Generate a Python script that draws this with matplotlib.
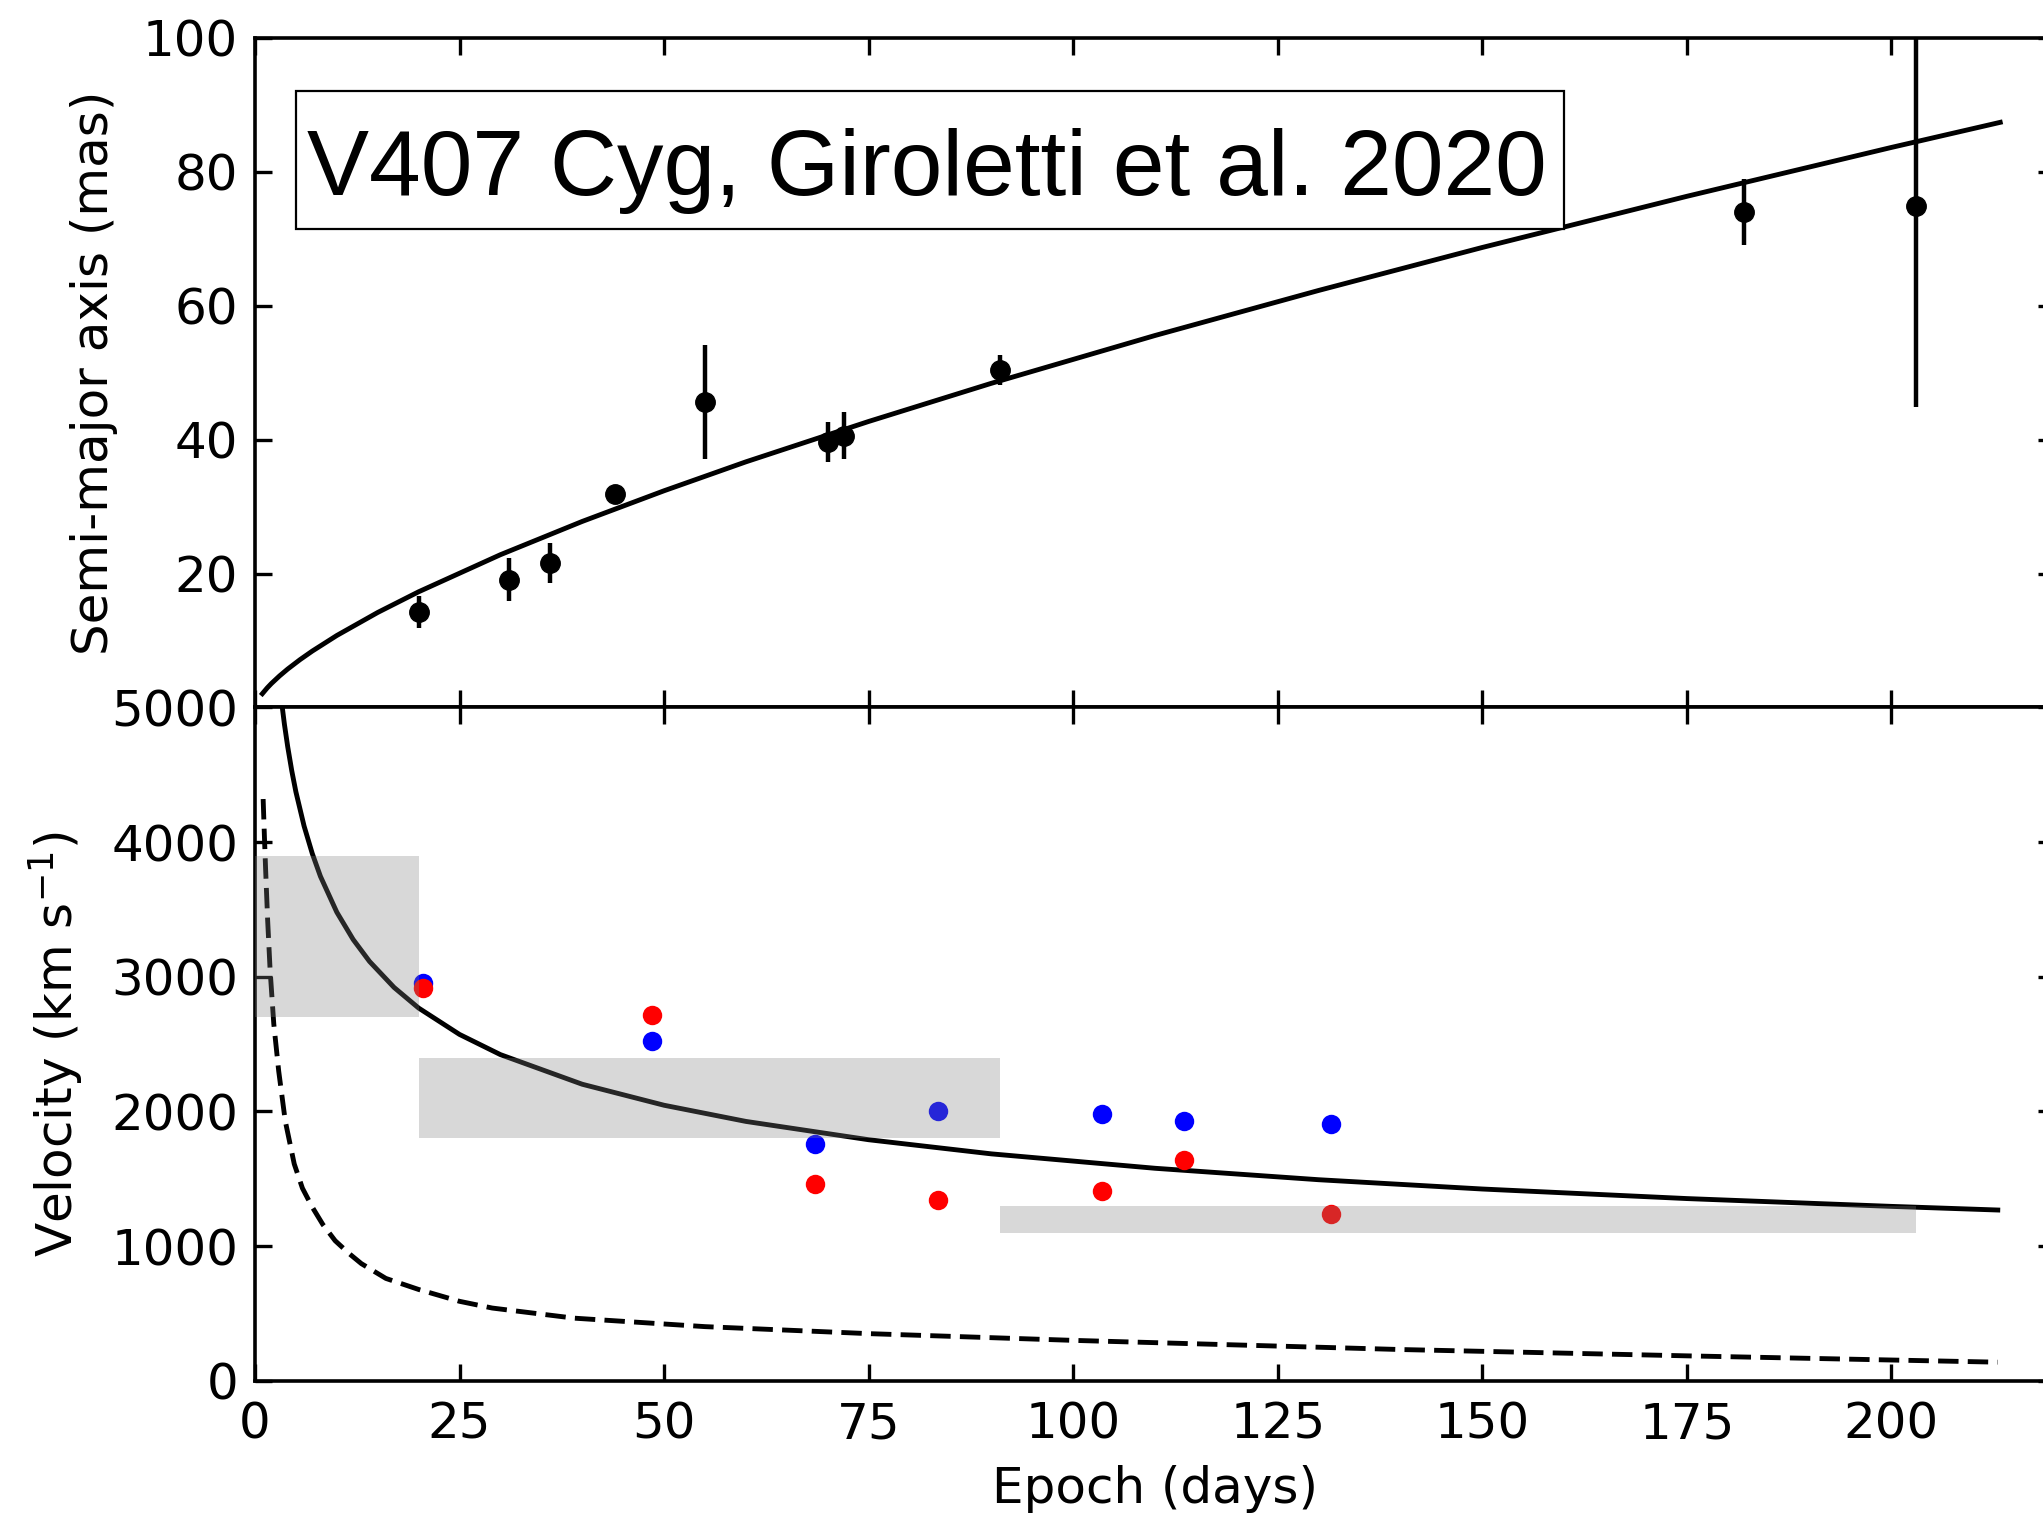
import matplotlib
matplotlib.use("Agg")
import matplotlib.pyplot as plt
from matplotlib.patches import Rectangle

# ---------------- data ----------------
# top panel: semi-major axis measurements
epoch_a = [20.0, 31.0, 36.0, 44.0, 55.0, 70.0, 72.0, 91.0, 182.0, 203.0]
semi_a = [14.3, 19.1, 21.6, 31.9, 45.6, 39.6, 40.6, 50.4, 74.0, 74.9]
semi_err = [2.4, 3.2, 3.0, 1.0, 8.5, 3.0, 3.5, 2.3, 4.9, 30.0]

# top panel: model curve
fit_t = [0.9, 1.5, 2, 3, 4, 5.5, 7, 10, 15, 20, 30, 40, 50, 60, 75, 90, 110, 130,
         150, 175, 200, 213.3]
fit_a = [2.06, 2.93, 3.57, 4.71, 5.74, 7.14, 8.42, 10.75, 14.19, 17.28, 22.82, 27.79,
         32.37, 36.69, 42.72, 48.42, 55.56, 62.29, 68.71, 76.35, 83.65, 87.4]

# bottom panel: velocity model curves
vel_t = [3.2, 3.6, 4, 4.5, 5, 6, 7, 8, 10, 12, 14, 17, 20, 25, 30, 40, 50, 60, 75, 90,
         110, 130, 150, 175, 200, 213]
vel_v = [5068, 4875, 4709, 4529, 4374, 4120, 3916, 3746, 3480, 3277, 3114, 2921, 2768,
         2572, 2422, 2202, 2046, 1926, 1790, 1685, 1578, 1493, 1424, 1353, 1295, 1268]
dash_t = [1.0, 1.15, 1.3, 1.55, 1.85, 2.3, 2.9, 3.7, 4.8, 5.8, 7.0, 8.3, 9.8, 11.5, 13,
          16, 20, 25, 29, 39, 55, 75, 100, 140, 175, 213]
dash_v = [4320, 4050, 3800, 3420, 3050, 2650, 2300, 1930, 1610, 1430, 1290, 1160, 1040,
          945, 870, 760, 678, 590, 540, 465, 402, 350, 300, 232, 185, 138]

# bottom panel: velocity measurements
vel_epoch = [20.5, 48.5, 68.5, 83.5, 103.5, 113.5, 131.5]
vel_blue = [2954, 2522, 1756, 2004, 1980, 1930, 1905]
vel_red = [2919, 2716, 1461, 1339, 1412, 1636, 1240]

# bottom panel: shaded velocity ranges (t_start, t_end, v_low, v_high)
box_t0 = [0, 20, 91]
box_t1 = [20, 91, 203]
box_v0 = [2700, 1800, 1100]
box_v1 = [3900, 2400, 1300]

xticks = [0, 25, 50, 75, 100, 125, 150, 175, 200]
yticks_top = [20, 40, 60, 80, 100]
yticks_bot = [0, 1000, 2000, 3000, 4000, 5000]

label_text = "V407 Cyg, Giroletti et al. 2020"

# ---------------- figure ----------------
plt.rcParams['font.family'] = ['DejaVu Sans']
plt.rcParams['mathtext.fontset'] = 'dejavusans'
FS = 36
LW = 3.5

fig = plt.figure(figsize=(20.43, 15.13), dpi=100)
ax1 = fig.add_axes([0.1248, 0.5324, 0.8811, 0.4425])
ax2 = fig.add_axes([0.1248, 0.0874, 0.8811, 0.4450])

for ax in (ax1, ax2):
    ax.set_xlim(0, 220)
    ax.set_xticks(xticks)
    for sp in ax.spines.values():
        sp.set_linewidth(2.6)
    ax.tick_params(direction='in', length=12.2, width=2.4, labelsize=FS,
                   top=True, right=True)
    ax.tick_params(axis='x', pad=14)
    ax.tick_params(axis='y', pad=12)

# top panel
ax1.set_ylim(0, 100)
ax1.set_yticks(yticks_top)
ax1.tick_params(labelbottom=False)
ax1.plot(fit_t, fit_a, color='k', lw=LW, zorder=3)
ax1.errorbar(epoch_a, semi_a, yerr=semi_err, fmt='o', color='k', ms=14,
             elinewidth=3.2, capsize=0, zorder=4)
ax1.set_ylabel("Semi-major axis (mas)", fontsize=FS, labelpad=18)

rect = Rectangle((0.0228, 0.7145), 0.7272 - 0.0228, 0.9208 - 0.7145,
                 transform=ax1.transAxes, facecolor='white', edgecolor='black',
                 lw=1.6, zorder=5)
ax1.add_patch(rect)
ax1.text(0.0289, 0.7653, label_text, transform=ax1.transAxes,
         fontsize=67, family=['Liberation Sans', 'DejaVu Sans'],
         ha='left', va='baseline', zorder=6)

# bottom panel
ax2.set_ylim(0, 5000)
ax2.set_yticks(yticks_bot)
ax2.plot(vel_t, vel_v, color='k', lw=LW, zorder=2)
ax2.plot(dash_t, dash_v, color='k', lw=LW, ls=(0, (4.2, 1.9)), zorder=2)
ax2.scatter(vel_epoch, vel_blue, s=196, color='#0000ff', lw=0, zorder=2.5)
ax2.scatter(vel_epoch, vel_red, s=196, color='#ff0000', lw=0, zorder=2.6)
for t0, t1, v0, v1 in zip(box_t0, box_t1, box_v0, box_v1):
    ax2.fill_between([t0, t1], [v0, v0], [v1, v1], color='grey', alpha=0.3,
                     lw=0, zorder=3)
ax2.set_ylabel("Velocity (km s$^{-1}$)", fontsize=FS, labelpad=18)
ax2.set_xlabel("Epoch (days)", fontsize=FS, labelpad=12)

fig.savefig("out.png", dpi=100)
